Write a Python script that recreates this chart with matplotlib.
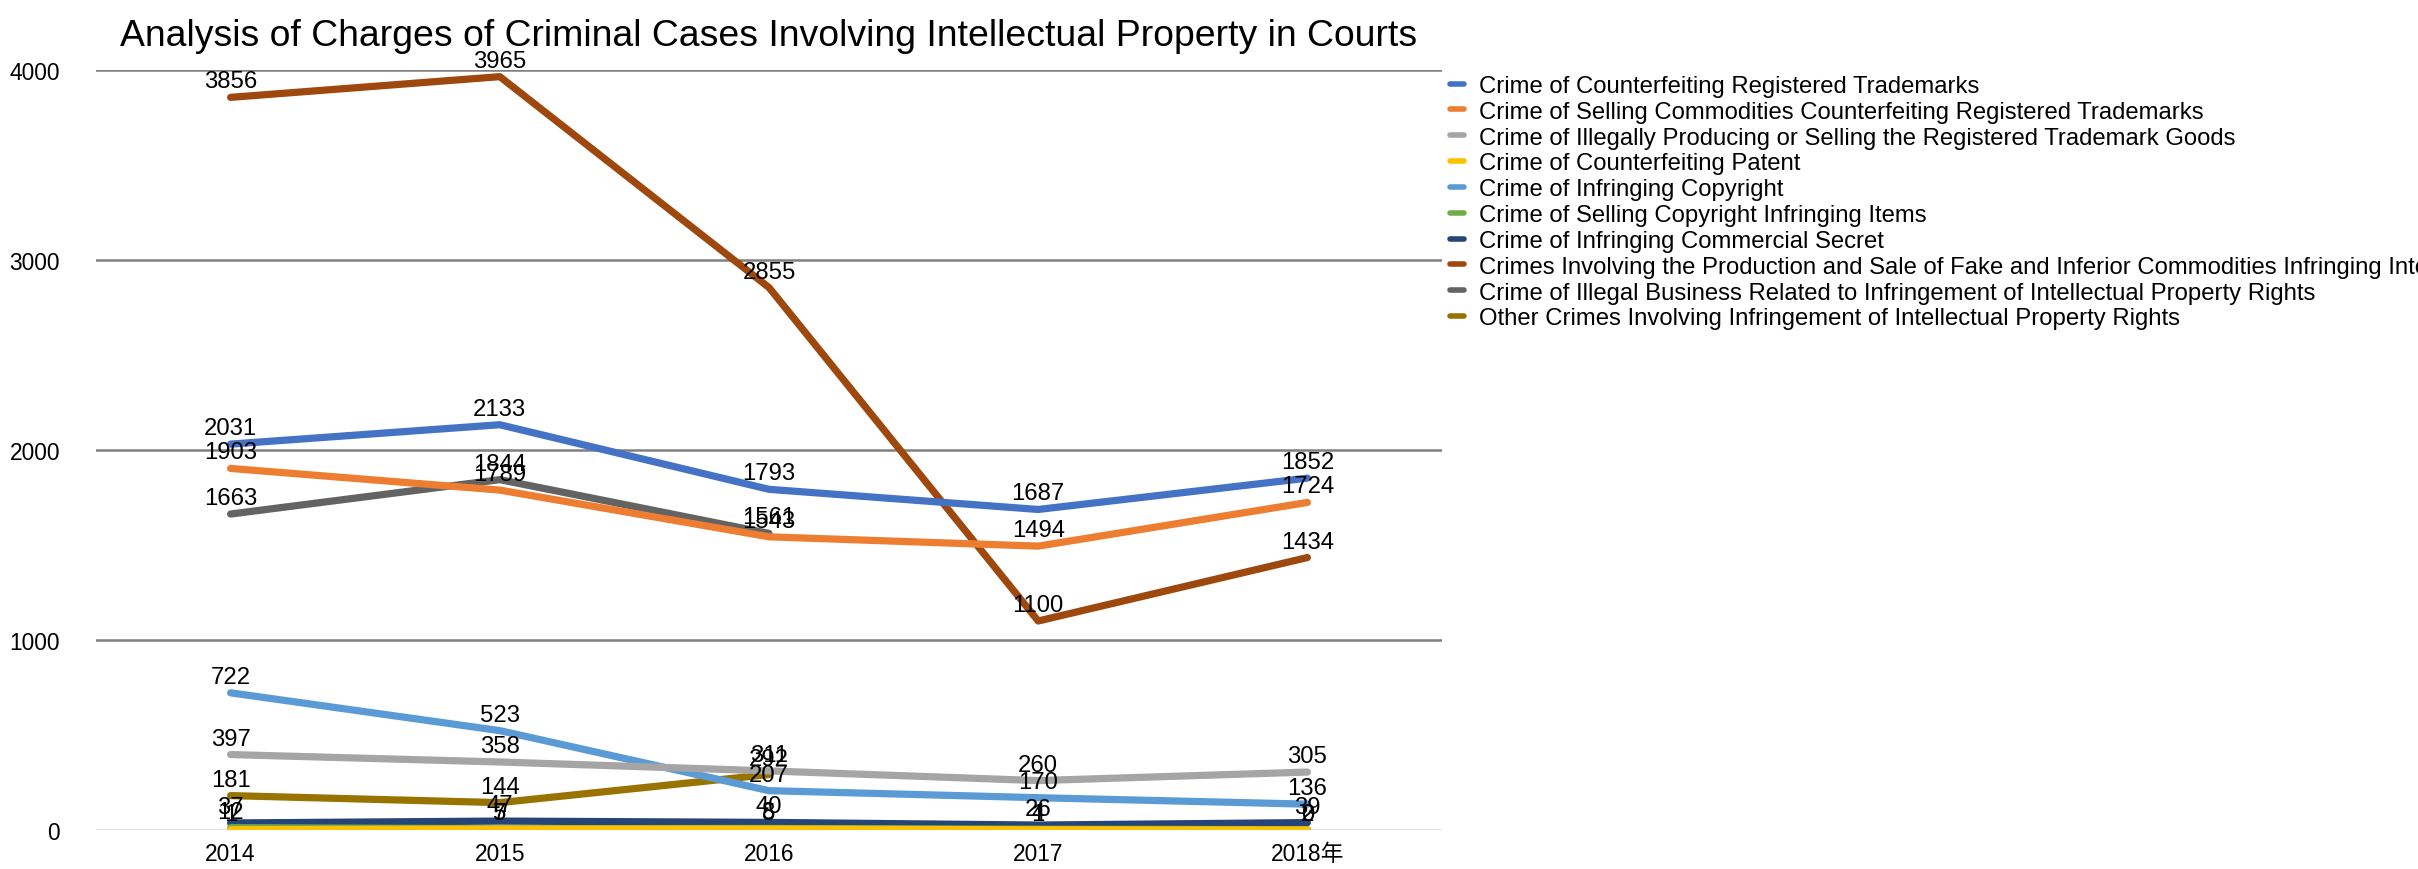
import numpy as np
import matplotlib
matplotlib.use("Agg")
import matplotlib.pyplot as plt
from matplotlib import font_manager

# reference text looks like a narrow Arial; use Liberation Sans Narrow if it is there
available = {f.name for f in font_manager.fontManager.ttflist}
if 'Liberation Sans Narrow' in available:
  base = 'Liberation Sans Narrow'
  ws = 1.0
else:
  base = 'Liberation Sans'
  ws = 0.82
plt.rcParams['font.family'] = [base, 'Noto Sans CJK SC', 'DejaVu Sans']

years = ['2014', '2015', '2016', '2017', '2018年']

names = [
  'Crime of Counterfeiting Registered Trademarks',
  'Crime of Selling Commodities Counterfeiting Registered Trademarks',
  'Crime of Illegally Producing or Selling the Registered Trademark Goods',
  'Crime of Counterfeiting Patent',
  'Crime of Infringing Copyright',
  'Crime of Selling Copyright Infringing Items',
  'Crime of Infringing Commercial Secret',
  'Crimes Involving the Production and Sale of Fake and Inferior Commodities Infringing Intellectual Property Rights',
  'Crime of Illegal Business Related to Infringement of Intellectual Property Rights',
  'Other Crimes Involving Infringement of Intellectual Property Rights',
]

nan = np.nan
counterfeit_tm = [2031, 2133, 1793, 1687, 1852]
selling_tm = [1903, 1789, 1543, 1494, 1724]
illegal_tm_goods = [397, 358, 311, 260, 305]
patent = [1, 5, 5, 1, 0]
copyright = [722, 523, 207, 170, 136]
selling_copyright = [12, 7, 8, 4, 2]
commercial_secret = [37, 47, 40, 26, 39]
fake_inferior = [3856, 3965, 2855, 1100, 1434]
illegal_business = [1663, 1844, 1561, nan, nan]
other_crimes = [181, 144, 292, nan, nan]

series = [counterfeit_tm, selling_tm, illegal_tm_goods, patent, copyright,
          selling_copyright, commercial_secret, fake_inferior, illegal_business, other_crimes]
colors = ['#4472C4', '#ED7D31', '#A5A5A5', '#FFC000', '#5B9BD5',
          '#70AD47', '#264478', '#9E480E', '#636363', '#997300']

fig = plt.figure(figsize=(24.18, 8.70), dpi=100)
ax = fig.add_axes([96/2418, 1 - 831/870, (1442 - 96)/2418, (831 - 71)/870])

x = np.arange(len(years))
handles = []
# first series ends up on top, as in the reference
for i, (vals, c, n) in enumerate(zip(series, colors, names)):
  h, = ax.plot(x, vals, color=c, lw=5.2, solid_capstyle='round', solid_joinstyle='round',
               label=n, zorder=20 - i)
  handles.append(h)

for vals in series:
  for xi, v in zip(x, vals):
    if np.isnan(v): continue
    ax.annotate(f'{int(v)}', (xi, v), xytext=(0, 5), textcoords='offset pixels',
                ha='center', va='bottom', fontsize=21*ws, color='black', zorder=30)

ax.set_xlim(-0.5, 4.5)
ax.set_ylim(0, 4000)
ax.set_yticks([0, 1000, 2000, 3000, 4000])
ax.set_xticks(x)
ax.set_xticklabels(years)
ax.tick_params(axis='both', length=0, labelsize=20*ws)
ax.tick_params(axis='y', pad=26)
ax.tick_params(axis='x', pad=9)
for s in ax.spines.values(): s.set_visible(False)
for yv in [1000, 2000, 3000, 4000]:
  ax.axhline(yv, color='#808080', lw=1.8, zorder=0)
ax.axhline(0, color='#D9D9D9', lw=1.8, zorder=0)

fig.text(769/2418, 1 - 36/870, 'Analysis of Charges of Criminal Cases Involving Intellectual Property in Courts',
         ha='center', va='center', fontsize=32.8*ws)

leg = fig.legend(handles=handles, loc='upper left', bbox_to_anchor=(1450/2418, 1 - 76/870),
                 frameon=False, fontsize=21*ws, handlelength=0.6, handletextpad=0.6,
                 labelspacing=0.0 if ws == 1.0 else 0.16, borderaxespad=0, borderpad=0)
for lh in leg.get_lines():
  lh.set_linewidth(4)

fig.savefig('out.png', dpi=100)
